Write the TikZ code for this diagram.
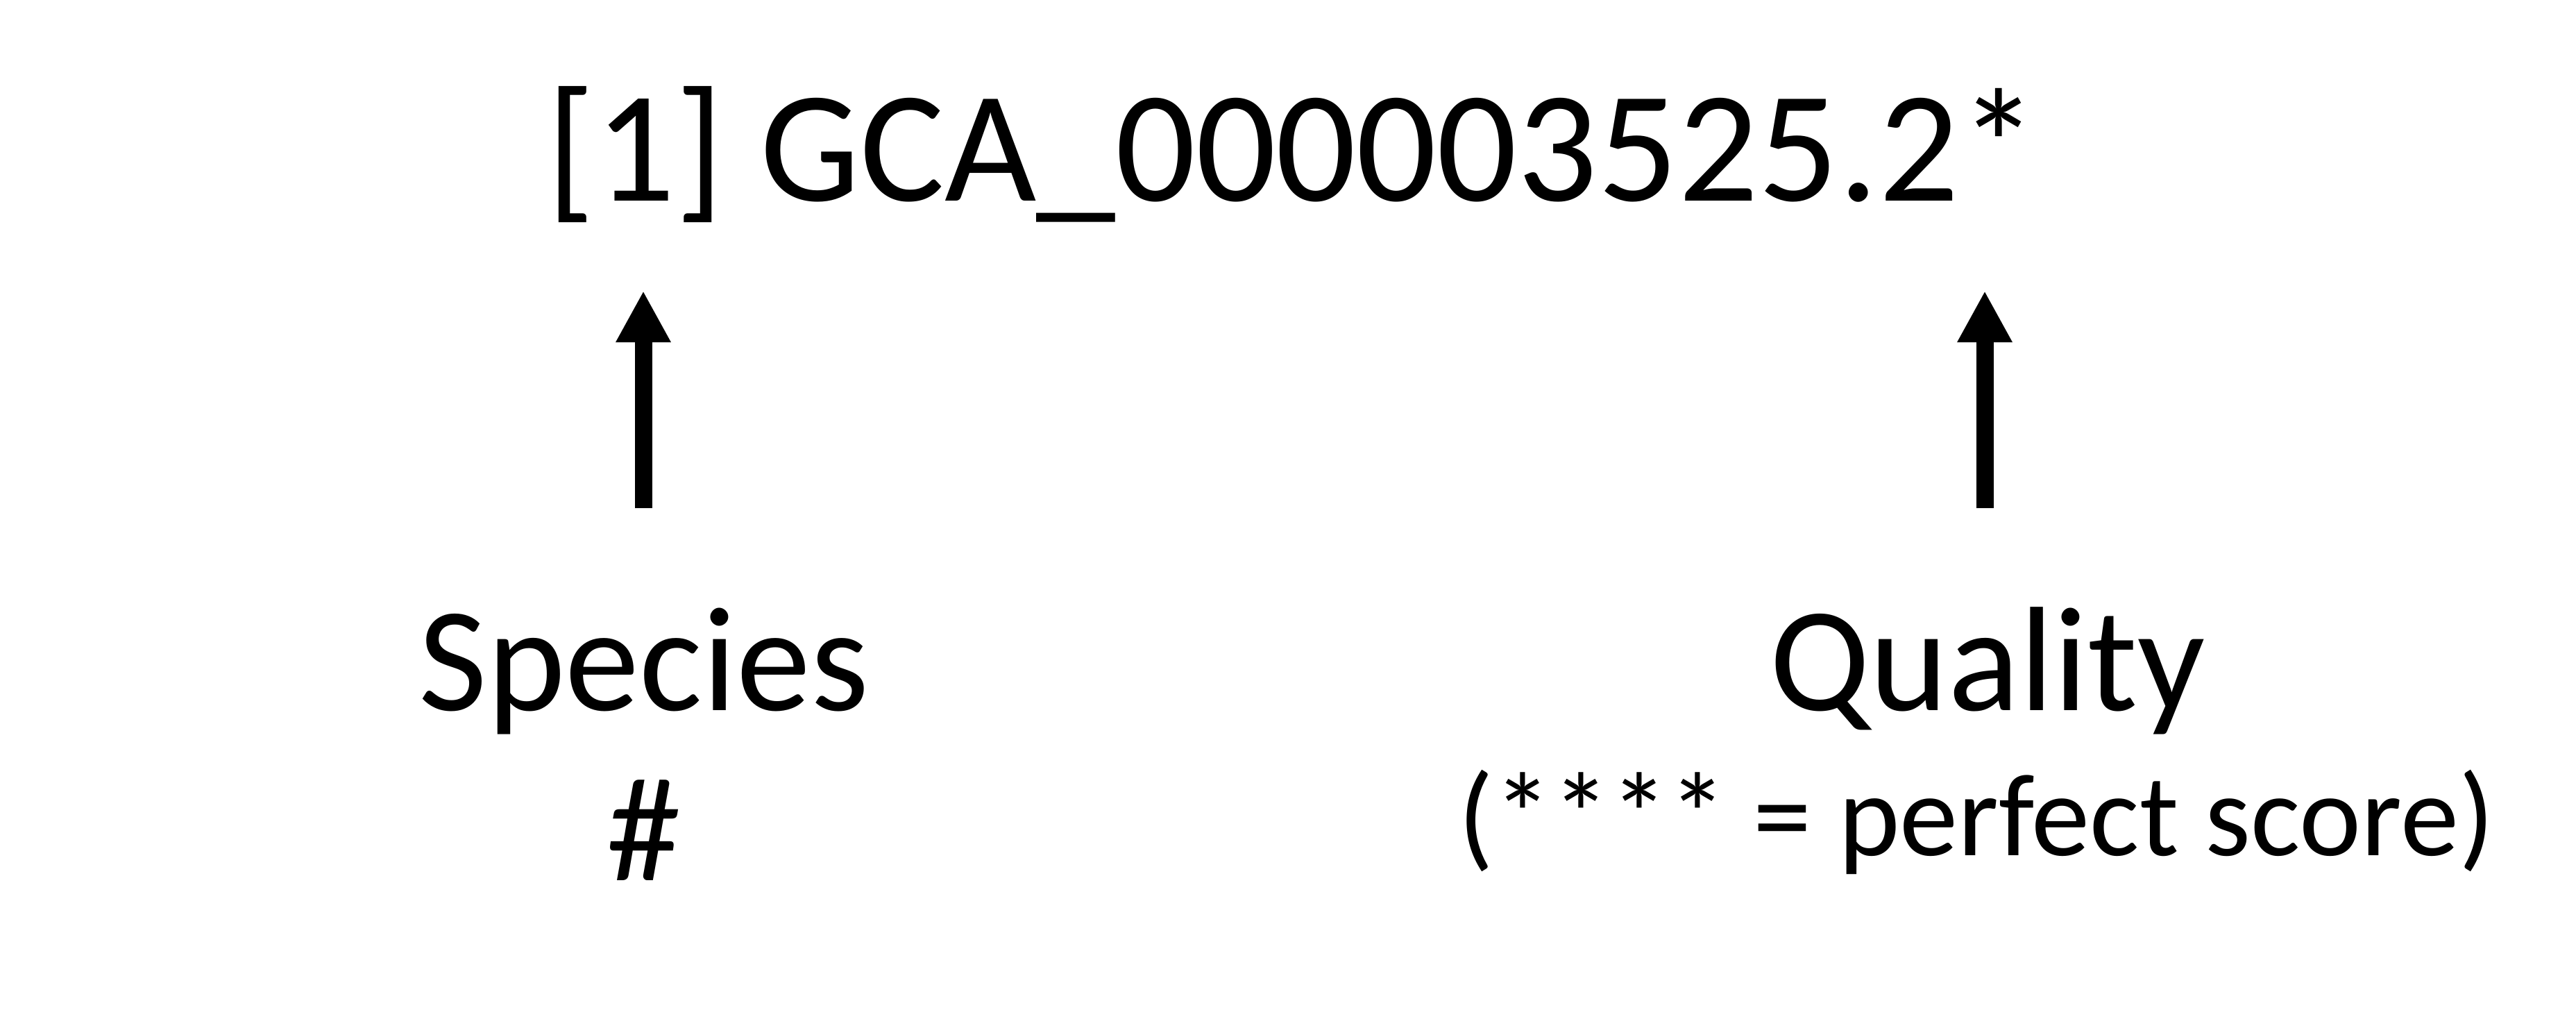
\documentclass[tikz,border=0pt]{standalone}
\usepackage{fontspec}
\setmainfont{Carlito}
\usetikzlibrary{arrows.meta}

\tikzset{
	big/.style={font=\fontsize{61}{70}\selectfont, inner sep=0pt, anchor=base},
	small/.style={font=\fontsize{48}{56}\selectfont, inner sep=0pt, anchor=base},
	pointer/.style={-{Triangle[width=0.74cm,length=0.74cm]}, line width=0.25cm},
}

\begin{document}
\begin{tikzpicture} % accession number explained
			\useasboundingbox (0,0) rectangle (37.12,-14.54);

			\coordinate (acc) at (18.62,-2.89);
			\coordinate (spTip) at (9.27,-4.19);
			\coordinate (spTail) at (9.27,-7.32);
			\coordinate (quTip) at (28.60,-4.19);
			\coordinate (quTail) at (28.60,-7.32);

			\node[big,font=\fontsize{65}{74}\selectfont] (id) at (acc) {[1] GCA\_000003525.2*};
			\node[big] (species) at (9.28,-10.23) {Species};
			\node[big] (hash) at (9.28,-12.68) {\#};
			\node[big] (quality) at (28.64,-10.23) {Quality};
			\node[small] (score) at (28.48,-12.32) {(**** = perfect score)};

			\draw[pointer] (spTail) -- (spTip);
			\draw[pointer] (quTail) -- (quTip);
		\end{tikzpicture}
\end{document}
